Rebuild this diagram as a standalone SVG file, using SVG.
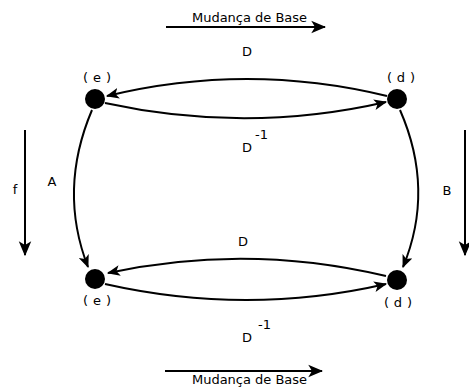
<svg xmlns="http://www.w3.org/2000/svg" width="469" height="387" viewBox="0 0 469 387">
<style>
text{font-family:"DejaVu Sans",sans-serif;font-size:13px;fill:#000}
.c{fill:none;stroke:#000;stroke-width:2}
.n{fill:#000}
</style>
<defs>
<marker id="ah" viewBox="0 0 12 10" refX="11" refY="5" markerWidth="13" markerHeight="11" markerUnits="userSpaceOnUse" orient="auto">
<path d="M0,0 L12,5 L0,10 L3,5 z" fill="#000"/>
</marker>
<marker id="ahb" viewBox="0 0 12 10" refX="11" refY="5" markerWidth="15" markerHeight="14" markerUnits="userSpaceOnUse" orient="auto">
<path d="M0,0 L12,5 L0,10 L3,5 z" fill="#000"/>
</marker>
</defs>
<rect width="469" height="387" fill="#fff"/>
<g id="connectors">
<path class="c" d="M387 96 Q247 62 107 96" marker-end="url(#ah)"/>
<path class="c" d="M105 103 Q247 134 386 102" marker-end="url(#ah)"/>
<path class="c" d="M386 276 Q247 243 108 273" marker-end="url(#ah)"/>
<path class="c" d="M105 284 Q247 316 386 284" marker-end="url(#ah)"/>
<path class="c" d="M92 110 Q58 190 88 267" marker-end="url(#ah)"/>
<path class="c" d="M400 110 Q435 190 403 267" marker-end="url(#ah)"/>
<path class="c" d="M166 27 L325 27" marker-end="url(#ahb)"/>
<path class="c" d="M165 371 L322 371" marker-end="url(#ahb)"/>
<path class="c" d="M25 130 L25 255" marker-end="url(#ahb)"/>
<path class="c" d="M465 130 L465 255" marker-end="url(#ahb)"/>
</g>
<g id="node-e-top"><circle class="n" cx="95" cy="99" r="10"/><text x="97" y="82" text-anchor="middle" textLength="28">( e )</text></g>
<g id="node-d-top"><circle class="n" cx="397" cy="99" r="10"/><text x="401" y="82" text-anchor="middle" textLength="28">( d )</text></g>
<g id="node-e-bottom"><circle class="n" cx="95" cy="279" r="10"/><text x="97" y="305" text-anchor="middle" textLength="28">( e )</text></g>
<g id="node-d-bottom"><circle class="n" cx="397" cy="280" r="10"/><text x="398" y="307" text-anchor="middle" textLength="28">( d )</text></g>
<g id="labels">
<text x="192" y="22" textLength="115" font-size="12">Mudança de Base</text>
<text x="192" y="384" textLength="115" font-size="12">Mudança de Base</text>
<text x="247" y="56" text-anchor="middle">D</text>
<text x="243" y="246" text-anchor="middle">D</text>
<text x="247" y="152" text-anchor="middle">D</text>
<text x="255" y="139">-1</text>
<text x="247" y="342" text-anchor="middle">D</text>
<text x="258" y="329">-1</text>
<text x="15" y="194" text-anchor="middle">f</text>
<text x="52" y="186" text-anchor="middle">A</text>
<text x="447" y="195" text-anchor="middle">B</text>
</g>
</svg>
